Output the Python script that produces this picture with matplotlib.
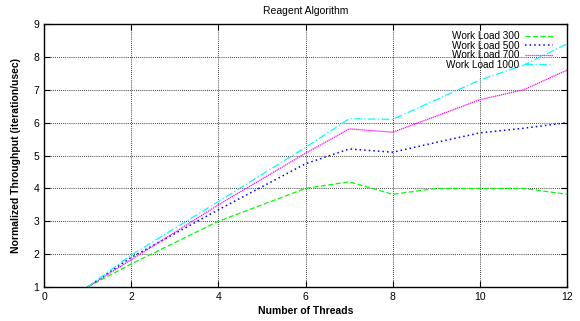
import matplotlib
matplotlib.use("Agg")
import matplotlib.pyplot as plt

plt.rcParams['font.family'] = ['Liberation Sans', 'DejaVu Sans']

threads = [1, 2, 4, 6, 7, 8, 9, 10, 11, 12]
wl300 = [1.0, 1.7, 3.0, 4.0, 4.2, 3.82, 4.0, 4.0, 4.0, 3.82]
wl500 = [1.0, 1.9, 3.35, 4.75, 5.2, 5.1, 5.4, 5.69, 5.83, 6.0]
wl700 = [1.0, 1.83, 3.5, 5.07, 5.81, 5.71, 6.2, 6.7, 7.0, 7.6]
wl1000 = [1.0, 1.97, 3.6, 5.25, 6.12, 6.1, 6.7, 7.3, 7.75, 8.4]
labels = ["Work Load 300", "Work Load 500", "Work Load 700", "Work Load 1000"]

fig = plt.figure(figsize=(5.8, 3.21), dpi=100)
ax = fig.add_axes([0.0759, 0.106, 0.902, 0.819])

ax.plot(threads, wl300, color='#00ff00', lw=0.9, linestyle=(0, (4, 2)), label=labels[0])
ax.plot(threads, wl500, color='#0000ff', lw=1.1, linestyle=(0, (1, 2)), label=labels[1])
ax.plot(threads, wl700, color='#ff00ff', lw=0.9, linestyle=(0, (1, 0.6)), label=labels[2])
ax.plot(threads, wl1000, color='#00ffff', lw=0.9, linestyle=(0, (6, 2, 1, 2)), label=labels[3])

ax.set_xlim(0, 12)
ax.set_ylim(1, 9)
ax.set_xticks(range(0, 13, 2))
ax.set_yticks(range(1, 10))
ax.tick_params(direction='in', top=True, right=True, labelsize=7.5, length=4, width=0.8)
ax.grid(True, color='black', linestyle=(0, (1, 1.5)), linewidth=0.6)
for s in ax.spines.values():
    s.set_linewidth(1.0)

ax.set_title("Reagent Algorithm", fontsize=7.5, pad=7)
ax.set_xlabel("Number of Threads", fontsize=7.5, fontweight='bold', labelpad=3)
ax.set_ylabel("Normalized Throughput (iteration/usec)", fontsize=7.5, fontweight='bold', labelpad=9)

leg = ax.legend(loc='upper right', bbox_to_anchor=(0.9866, 1.0), frameon=False,
                markerfirst=False, fontsize=7.2, handlelength=2.8, labelspacing=-0.05,
                borderaxespad=0.3, handletextpad=0.6)
for t in leg.get_texts():
    t.set_ha('right')
leg._legend_box.align = 'right'

fig.savefig("out.png", dpi=100)
